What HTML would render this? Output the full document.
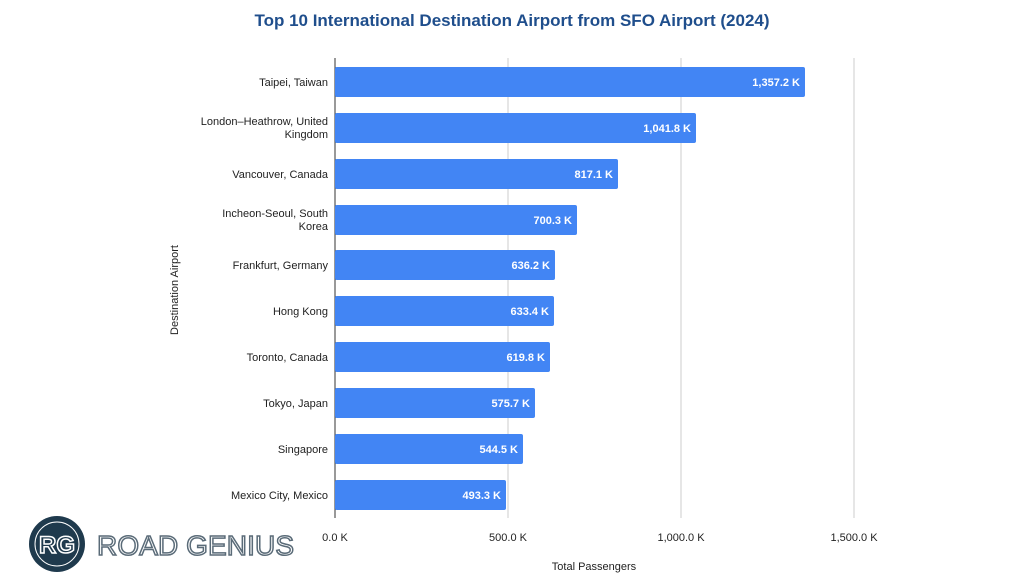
<!DOCTYPE html>
<html><head><meta charset="utf-8"><style>body{margin:0;background:#fff}</style></head><body>
<svg width="1024" height="582" xmlns="http://www.w3.org/2000/svg" font-family="Liberation Sans, Arial, sans-serif">
<rect width="1024" height="582" fill="#fff"/>
<text x="512" y="26" text-anchor="middle" font-size="17" font-weight="bold" fill="#1f4e8c">Top 10 International Destination Airport from SFO Airport (2024)</text>
<g stroke="#cccccc" stroke-width="1">
<line x1="508" y1="58" x2="508" y2="518"/><line x1="681" y1="58" x2="681" y2="518"/><line x1="854" y1="58" x2="854" y2="518"/>
</g>
<line x1="335" y1="58" x2="335" y2="518" stroke="#333" stroke-width="1"/>
<g fill="#4285f4">
<rect x="335" y="67" width="470" height="30" rx="2"/>
<rect x="335" y="113" width="361" height="30" rx="2"/>
<rect x="335" y="159" width="283" height="30" rx="2"/>
<rect x="335" y="205" width="242" height="30" rx="2"/>
<rect x="335" y="250" width="220" height="30" rx="2"/>
<rect x="335" y="296" width="219" height="30" rx="2"/>
<rect x="335" y="342" width="215" height="30" rx="2"/>
<rect x="335" y="388" width="200" height="30" rx="2"/>
<rect x="335" y="434" width="188" height="30" rx="2"/>
<rect x="335" y="480" width="171" height="30" rx="2"/>
</g>
<g fill="#fff" font-size="11" font-weight="bold" text-anchor="end">
<text x="800" y="86">1,357.2 K</text>
<text x="691" y="132">1,041.8 K</text>
<text x="613" y="178">817.1 K</text>
<text x="572" y="224">700.3 K</text>
<text x="550" y="269">636.2 K</text>
<text x="549" y="315">633.4 K</text>
<text x="545" y="361">619.8 K</text>
<text x="530" y="407">575.7 K</text>
<text x="518" y="453">544.5 K</text>
<text x="501" y="499">493.3 K</text>
</g>
<g fill="#222" font-size="11" text-anchor="end">
<text x="328" y="86">Taipei, Taiwan</text>
<text x="328" y="125">London–Heathrow, United</text><text x="328" y="138">Kingdom</text>
<text x="328" y="178">Vancouver, Canada</text>
<text x="328" y="217">Incheon-Seoul, South</text><text x="328" y="230">Korea</text>
<text x="328" y="269">Frankfurt, Germany</text>
<text x="328" y="315">Hong Kong</text>
<text x="328" y="361">Toronto, Canada</text>
<text x="328" y="407">Tokyo, Japan</text>
<text x="328" y="453">Singapore</text>
<text x="328" y="499">Mexico City, Mexico</text>
</g>
<g fill="#222" font-size="11" text-anchor="middle">
<text x="335" y="541">0.0 K</text><text x="508" y="541">500.0 K</text><text x="681" y="541">1,000.0 K</text><text x="854" y="541">1,500.0 K</text>
<text x="594" y="570">Total Passengers</text>
<text transform="translate(178,290) rotate(-90)">Destination Airport</text>
</g>
<circle cx="57" cy="544" r="28" fill="#1f3a4d"/>
<circle cx="57" cy="544" r="22" fill="none" stroke="#fff" stroke-width="1"/>
<text x="57" y="553" text-anchor="middle" font-size="24" font-weight="bold" fill="#1f3a4d" stroke="#fff" stroke-width="1.5">RG</text>
<text x="97" y="555" font-size="28" fill="#fff" stroke="#5a6b78" stroke-width="1.5" letter-spacing="1" textLength="198">ROAD GENIUS</text>
</svg>
</body></html>
